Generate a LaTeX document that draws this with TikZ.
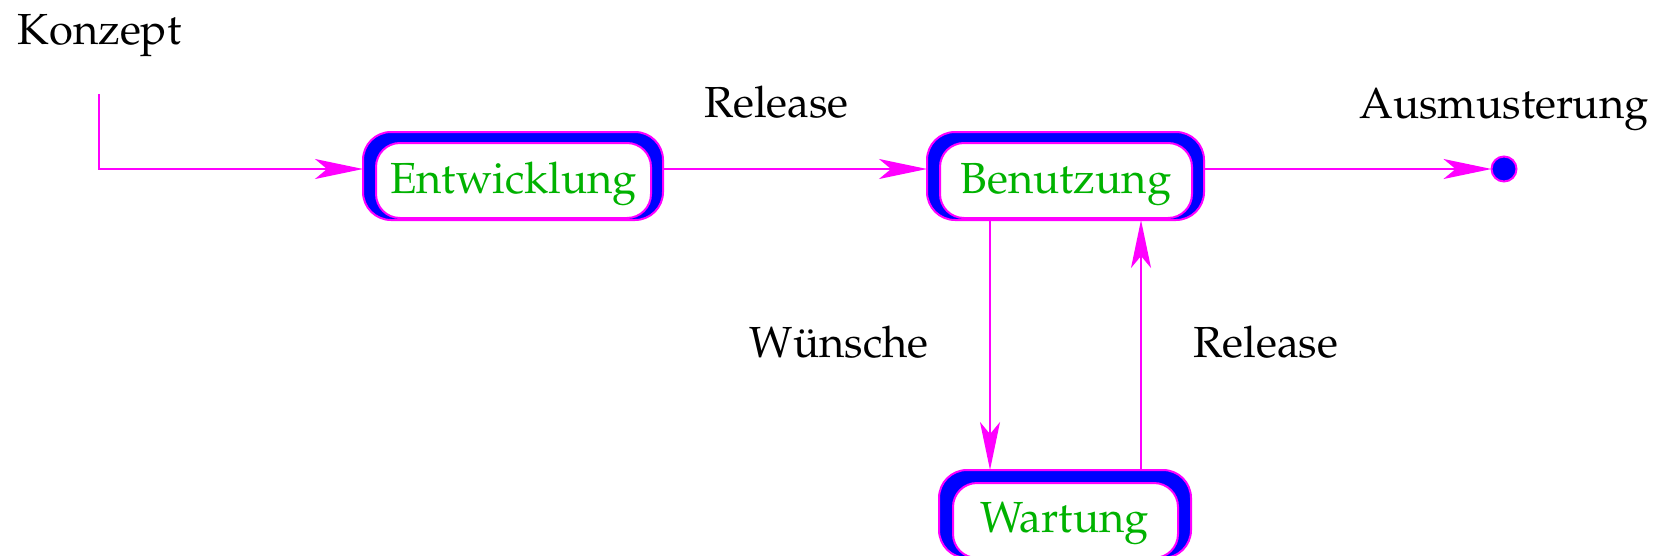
\documentclass[tikz,border=0pt]{standalone}
\usepackage[T1]{fontenc}
\renewcommand{\rmdefault}{ppl}
\usetikzlibrary{arrows.meta}
\definecolor{edge}{RGB}{255,0,255}
\definecolor{shade}{RGB}{0,0,255}
\definecolor{statetext}{RGB}{0,178,0}

\begin{document}
\begin{tikzpicture}[x=0.5pt,y=-0.5pt,
  every node/.style={font=\fontsize{21.75pt}{26pt}\selectfont, inner sep=0pt, outer sep=0pt},
  outerbox/.style={draw=edge, fill=shade, line width=1pt, rounded corners=14pt, minimum height=44pt},
  innerbox/.style={draw=edge, fill=white, line width=1pt, rounded corners=12pt, minimum height=37.5pt},
  statelabel/.style={text=statetext, anchor=base},
  tlabel/.style={anchor=base},
  conn/.style={draw=edge, line width=1pt},
  arr/.style={conn, -{Stealth[length=24pt,width=10pt,inset=6pt]}},
  enddot/.style={circle, draw=edge, fill=shade, line width=1pt, minimum size=12.5pt},
]
\useasboundingbox (0,0) rectangle (1668,556);

% states: shaded outer frame with a white face inside
\node[outerbox, minimum width=150pt] (ent) at (513,176) {};
\node[innerbox, minimum width=137.5pt] (entface) at (513.5,180.5) {};
\node[statelabel] (entlabel) at (513.5,193) {Entwicklung};

\node[outerbox, minimum width=138.5pt] (ben) at (1065.5,176) {};
\node[innerbox, minimum width=126pt] (benface) at (1066,180.5) {};
\node[statelabel] (benlabel) at (1066,193) {Benutzung};

\node[outerbox, minimum width=126pt] (wart) at (1065,514) {};
\node[innerbox, minimum width=112.5pt] (wartface) at (1065.5,520.5) {};
\node[statelabel] (wartlabel) at (1064.5,532) {Wartung};

% final state
\node[enddot] (fin) at (1504,169) {};

% start point
\coordinate (start) at (99,94);

% transitions
\draw[arr] (start) |- ([yshift=3.5pt]ent.west);
\draw[arr] ([yshift=3.5pt]ent.east) -- ([yshift=3.5pt]ben.west);
\draw[arr] ([yshift=3.5pt]ben.east) -- (fin);
\coordinate (down) at ([xshift=-37.75pt]ben.south);
\coordinate (up) at ([xshift=37.75pt]ben.south);
\draw[arr] (down) -- (down |- wart.north);
\draw[arr] (up |- wart.north) -- (up);

% labels
\node[tlabel] (konzept) at (99.5,45) {Konzept};
\node[tlabel] (rel1) at (776.5,118) {Release};
\node[tlabel] (ausm) at (1504,119) {Ausmusterung};
\node[tlabel] (wue) at (839,357) {W\"unsche};
\node[tlabel] (rel2) at (1266,357) {Release};
\end{tikzpicture}
\end{document}
